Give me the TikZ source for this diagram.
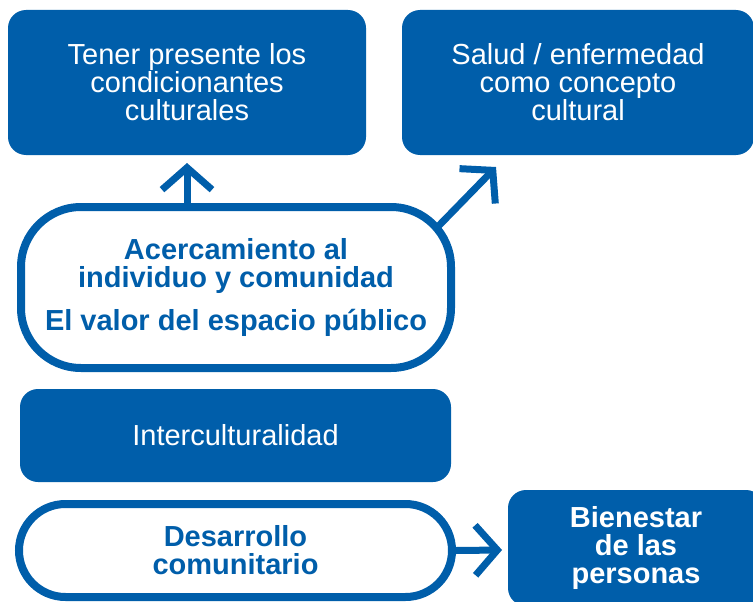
\documentclass[tikz,border=0pt]{standalone}
\usepackage{fontspec}
\setmainfont{Liberation Sans}
\usetikzlibrary{arrows.meta,backgrounds}
\definecolor{cblue}{RGB}{0,94,170}
\begin{document}
\begin{tikzpicture}[x=1pt,y=-1pt,
  fillbox/.style={fill=cblue,rounded corners=18pt,text=white,align=center,inner sep=0pt,
    font=\fontsize{29}{28}\selectfont},
  ringbox/.style={draw=cblue,line width=8pt,fill=white,text=cblue,align=center,inner sep=0pt,
    font=\fontsize{29}{28}\selectfont\bfseries},
  arr/.style={draw=cblue,line width=7pt,-{Straight Barb[length=22pt,width=50pt]}}]
\useasboundingbox (0,0) rectangle (753,602);

\node[fillbox,minimum width=358pt,minimum height=145pt] (tener) at (187,82.5)
  {Tener presente los\\condicionantes\\culturales};
\node[fillbox,minimum width=352pt,minimum height=145pt] (salud) at (578,82.5)
  {Salud / enfermedad\\como concepto\\cultural};
\node[ringbox,rounded corners=60pt,minimum width=430pt,minimum height=161pt] (acer) at (236,287.5)
  {Acercamiento al\\individuo y comunidad\\[15pt]El valor del espacio público};
\node[fillbox,minimum width=431pt,minimum height=93pt] (inter) at (235.5,435.5)
  {Interculturalidad};
\node[ringbox,rounded corners=46.5pt,minimum width=433pt,minimum height=93pt] (desa) at (235.5,550.5)
  {Desarrollo\\comunitario};
\node[fillbox,font=\fontsize{29}{28}\selectfont\bfseries,minimum width=256pt,minimum height=116pt] (bien) at (636,548)
  {Bienestar\\de las\\personas};

\coordinate (t1) at (187,163);
\coordinate (s2) at (420,245);
\coordinate (t2) at (496,167);
\coordinate (t3) at (502,550);
\begin{scope}[on background layer]
  \draw[arr] (t1 |- acer.north) -- (t1);
  \draw[arr] (s2) -- (t2);
  \draw[arr] (desa.east) -- (t3);
\end{scope}
\end{tikzpicture}
\end{document}
